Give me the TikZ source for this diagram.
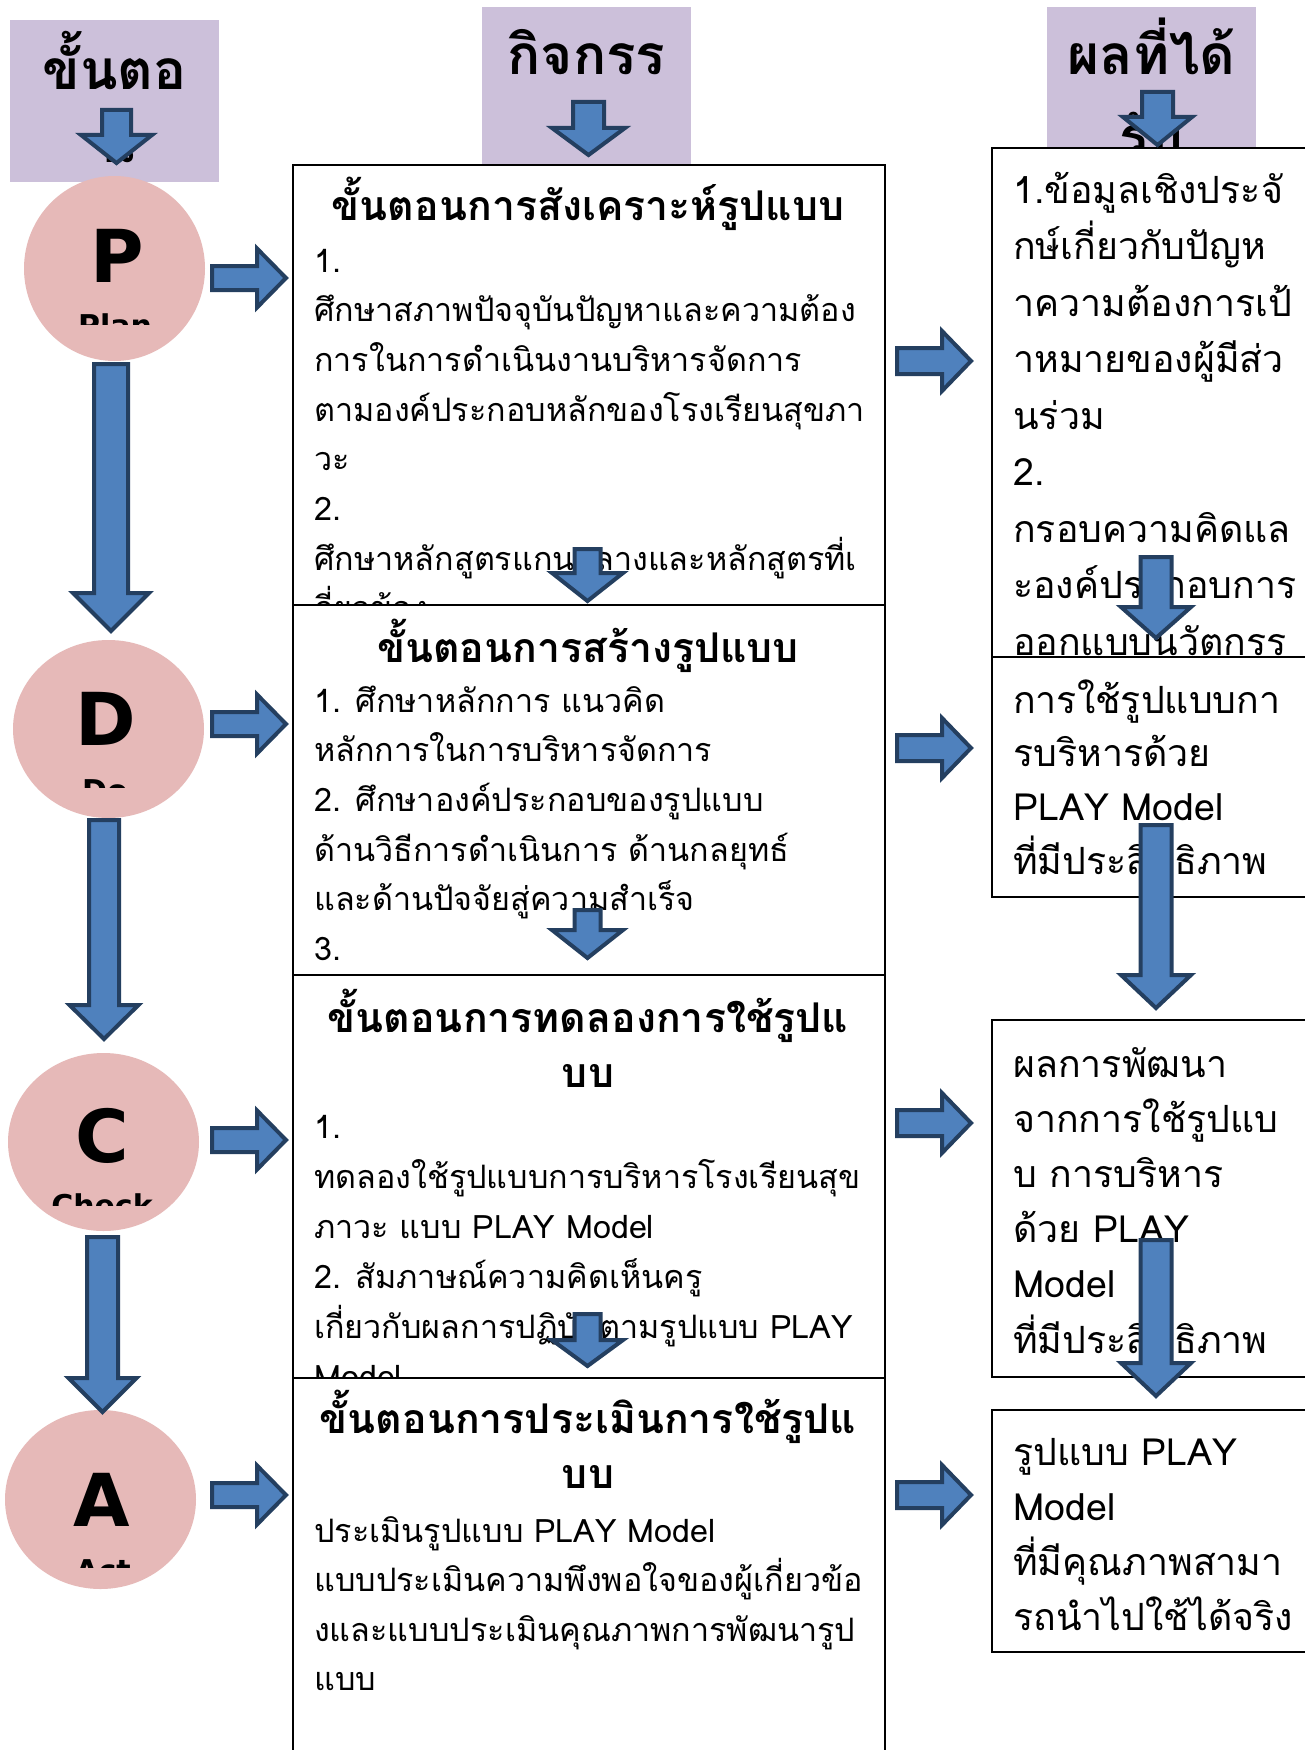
\documentclass[tikz,border=0pt]{standalone}
\usepackage{fontspec}
\newfontfamily\thaifont[Script=Thai]{Loma}
\newfontfamily\letterfont{DejaVu Sans}
\usetikzlibrary{shapes.geometric}
\definecolor{hdrbg}{HTML}{CCC0DA}
\definecolor{pinkbg}{HTML}{E6B9B8}
\definecolor{arrfill}{HTML}{4F81BD}
\definecolor{arrline}{HTML}{243F60}
\newcommand\DownArr[6]{\draw[barrow] ({#1-#5},#2) -- ({#1+#5},#2) -- ({#1+#5},#3) -- ({#1+#6},#3) -- (#1,#4) -- ({#1-#6},#3) -- ({#1-#5},#3) -- cycle;}
\newcommand\RightArr[6]{\draw[barrow] (#2,{#1-#5}) -- (#3,{#1-#5}) -- (#3,{#1-#6}) -- (#4,#1) -- (#3,{#1+#6}) -- (#3,{#1+#5}) -- (#2,{#1+#5}) -- cycle;}
\tikzset{
  barrow/.style={fill=arrfill, draw=arrline, line width=4pt, line join=miter, miter limit=10},
  hdrbox/.style={fill=hdrbg, draw=none, anchor=north west, inner sep=0pt, outer sep=0pt},
  txtbox/.style={fill=white, draw=black, line width=1.5pt, anchor=north west, inner sep=0pt, outer sep=0pt},
  pdca/.style={ellipse, fill=pinkbg, draw=none, inner sep=0pt},
  bodyline/.style={anchor=base west, inner sep=0pt, font=\thaifont\fontsize{32.3}{38}\selectfont},
  titleline/.style={anchor=base, inner sep=0pt, font=\thaifont\bfseries\fontsize{41}{48}\selectfont},
  rightline/.style={anchor=base west, inner sep=0pt, font=\thaifont\fontsize{37.5}{44}\selectfont},
  hdrtext/.style={anchor=base, inner sep=0pt, font=\thaifont\bfseries\fontsize{55}{64}\selectfont},
  bigletter/.style={anchor=base, inner sep=0pt, font=\letterfont\bfseries\fontsize{73}{80}\selectfont},
  subletter/.style={anchor=base, inner sep=0pt, font=\letterfont\bfseries\fontsize{30}{36}\selectfont},
}
\begin{document}
\begin{tikzpicture}[x=1pt,y=-1pt]
\useasboundingbox (0,0) rectangle (1305,1750);
\clip (0,0) rectangle (1305,1750);
\fill[white] (0,0) rectangle (1305,1750);

% header boxes
\node[hdrbox, minimum width=209pt, minimum height=162pt] (H1) at (10,20) {};
\node[hdrbox, minimum width=209pt, minimum height=158pt] (H2) at (482,7) {};
\node[hdrbox, minimum width=209pt, minimum height=141pt] (H3) at (1047,7) {};
\begin{scope}
\clip (10,20) rectangle (219,182);
\node[hdrtext] (H1t) at (114.5,90) {ขั้นตอ};
\node[hdrtext] (H1u) at (116.5,162) {น};
\end{scope}
\node[hdrtext] (H2t) at (586.5,75) {กิจกรร};
\begin{scope}
\clip (1047,7) rectangle (1256,148);
\node[hdrtext] (H3t) at (1151.5,75) {ผลที่ได้};
\node[hdrtext] (H3u) at (1151.5,157) {รับ};
\end{scope}

% PDCA ellipses
\node[pdca, minimum width=181pt, minimum height=185pt] (P) at (114.5,268.5) {};
\node[bigletter] (Pl) at (117,282) {P};
\begin{scope}\clip (0,300) rectangle (300,324);
\node[subletter] (Pw) at (115,336) {Plan};
\end{scope}
\node[pdca, minimum width=191pt, minimum height=178pt] (D) at (108.5,729) {};
\node[bigletter] (Dl) at (106,745) {D};
\begin{scope}\clip (0,760) rectangle (300,787);
\node[subletter] (Dw) at (105,801) {Do};
\end{scope}
\node[pdca, minimum width=191pt, minimum height=178pt] (C) at (103.5,1142) {};
\node[bigletter] (Cl) at (102,1162) {C};
\begin{scope}\clip (0,1180) rectangle (300,1205);
\node[subletter] (Cw) at (102,1216) {Check};
\end{scope}
\node[pdca, minimum width=191pt, minimum height=179pt] (A) at (100.5,1499.5) {};
\node[bigletter] (Al) at (102,1526) {A};
\begin{scope}\clip (0,1540) rectangle (300,1567);
\node[subletter] (Aw) at (103,1581) {Act};
\end{scope}

% middle column
\node[txtbox, minimum width=592pt, minimum height=440pt] (M1) at (293,165) {};
\node[titleline] (M1t) at (588,220) {ขั้นตอนการสังเคราะห์รูปแบบ};
\foreach \t [count=\i from 0] in {1.,ศึกษาสภาพปัจจุบันปัญหาและความต้อง,การในการดำเนินงานบริหารจัดการ,ตามองค์ประกอบหลักของโรงเรียนสุขภา,วะ,2.,ศึกษาหลักสูตรแกนกลางและหลักสูตรที่เ,กี่ยวข้อง}
  \node[bodyline] (M1b\i) at (314,{272+49.7*\i}) {\t};

\node[txtbox, minimum width=592pt, minimum height=370pt] (M2) at (293,605) {};
\node[titleline] (M2t) at (588,662) {ขั้นตอนการสร้างรูปแบบ};
\foreach \t [count=\i from 0] in {1. ศึกษาหลักการ แนวคิด,หลักการในการบริหารจัดการ,2. ศึกษาองค์ประกอบของรูปแบบ,ด้านวิธีการดำเนินการ ด้านกลยุทธ์,และด้านปัจจัยสู่ความสำเร็จ,3.}
  \node[bodyline] (M2b\i) at (314,{712+49.7*\i}) {\t};

\node[txtbox, minimum width=592pt, minimum height=403pt] (M3) at (293,975) {};
\node[titleline] (M3t) at (588,1032) {ขั้นตอนการทดลองการใช้รูปแ};
\node[titleline] (M3u) at (588,1087) {บบ};
\foreach \t [count=\i from 0] in {1.,ทดลองใช้รูปแบบการบริหารโรงเรียนสุข,ภาวะ แบบ PLAY Model,2. สัมภาษณ์ความคิดเห็นครู,เกี่ยวกับผลการปฏิบัติตามรูปแบบ PLAY,Model}
  \node[bodyline] (M3b\i) at (314,{1138+50*\i}) {\t};

\node[txtbox, minimum width=592pt, minimum height=420pt] (M4) at (293,1378) {};
\node[titleline] (M4t) at (588,1433) {ขั้นตอนการประเมินการใช้รูปแ};
\node[titleline] (M4u) at (588,1488) {บบ};
\foreach \t [count=\i from 0] in {ประเมินรูปแบบ PLAY Model,แบบประเมินความพึงพอใจของผู้เกี่ยวข้อ,งและแบบประเมินคุณภาพการพัฒนารูป,แบบ}
  \node[bodyline] (M4b\i) at (314,{1542+49.5*\i}) {\t};

% right column
\node[txtbox, minimum width=340pt, minimum height=509pt] (R1) at (992,148) {};
\foreach \t [count=\i from 0] in {1.ข้อมูลเชิงประจั,กษ์เกี่ยวกับปัญห,าความต้องการเป้,าหมายของผู้มีส่ว,นร่วม,2.,กรอบความคิดแล,ะองค์ประกอบการ,ออกแบบนวัตกรร}
  \node[rightline] (R1b\i) at (1013,{203+56.5*\i}) {\t};
\node[txtbox, minimum width=340pt, minimum height=240pt] (R2) at (992,657) {};
\foreach \t [count=\i from 0] in {การใช้รูปแบบกา,รบริหารด้วย,PLAY Model,ที่มีประสิทธิภาพ}
  \node[rightline] (R2b\i) at (1013,{713+53.7*\i}) {\t};
\node[txtbox, minimum width=340pt, minimum height=357pt] (R3) at (992,1020) {};
\foreach \t [count=\i from 0] in {ผลการพัฒนา,จากการใช้รูปแบ,บ การบริหาร,ด้วย PLAY,Model,ที่มีประสิทธิภาพ}
  \node[rightline] (R3b\i) at (1013,{1077+55.2*\i}) {\t};
\node[txtbox, minimum width=340pt, minimum height=242pt] (R4) at (992,1410) {};
\foreach \t [count=\i from 0] in {รูปแบบ PLAY,Model,ที่มีคุณภาพสามา,รถนำไปใช้ได้จริง}
  \node[rightline] (R4b\i) at (1013,{1465+55*\i}) {\t};

% header arrows
\DownArr{116.5}{110}{135}{163}{14.5}{35.5}
\DownArr{588.5}{102}{128}{155}{15.5}{36.5}
\DownArr{1157.5}{92}{117}{145}{15.5}{34.5}
% left column arrows
\DownArr{111}{364}{593}{631}{17}{38}
\DownArr{104}{820}{1005}{1039}{15}{34.5}
\DownArr{102.5}{1237}{1378}{1412}{15.5}{34}
% middle column arrows
\DownArr{587.5}{549}{573}{601}{13}{35.5}
\DownArr{587.5}{910}{930}{958}{13}{35.5}
\DownArr{587.5}{1314}{1340}{1366}{13}{35.5}
% right column arrows
\DownArr{1156}{557}{607}{638}{15.5}{35}
\DownArr{1156}{825}{975}{1008}{15.5}{35}
\DownArr{1156}{1240}{1363}{1396}{15.5}{35}
% right-pointing arrows
\RightArr{278}{212}{257}{286}{12}{29.5}
\RightArr{724}{212}{257}{286}{12}{29.5}
\RightArr{1140}{212}{257}{286}{12}{29.5}
\RightArr{1495}{212}{257}{286}{12}{29.5}
\RightArr{361}{897}{942}{971}{13}{30}
\RightArr{748}{897}{942}{971}{13}{30}
\RightArr{1123}{897}{942}{971}{13}{30}
\RightArr{1495}{897}{942}{971}{13}{30}
\end{tikzpicture}
\end{document}
